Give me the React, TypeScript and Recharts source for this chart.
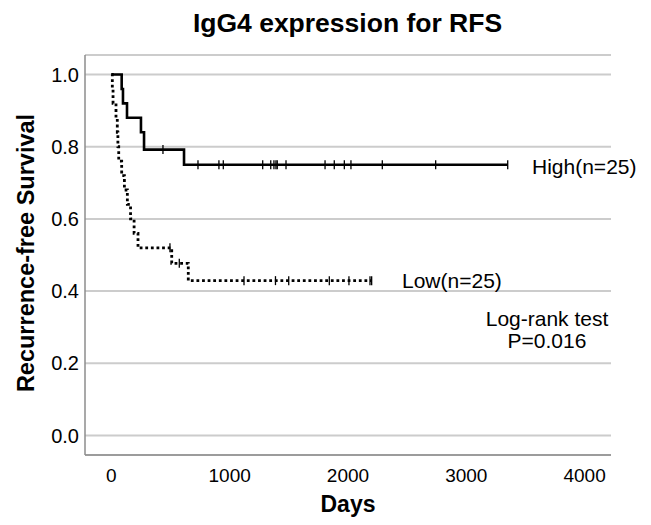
import React from "react";
import { ComposedChart, Line, XAxis, YAxis, CartesianGrid, Customized } from "recharts";

// Kaplan-Meier step points (time in days, survival proportion)
const highTimes = [0, 87, 98, 132, 250, 276, 614, 3350];
const highSurv = [1, 0.96, 0.92, 0.88, 0.84, 0.792, 0.75, 0.75];
const highCensorTimes = [436, 732, 909, 946, 1279, 1347, 1374, 1391, 1402, 1476, 1806, 1884, 1969, 2025, 2290, 2741, 3350];
const highCensorSurv = [0.792, 0.75, 0.75, 0.75, 0.75, 0.75, 0.75, 0.75, 0.75, 0.75, 0.75, 0.75, 0.75, 0.75, 0.75, 0.75, 0.75];

const lowTimes = [0, 8, 14, 39, 50, 55, 62, 87, 110, 135, 162, 192, 225, 510, 650, 2200];
const lowSurv = [1, 0.96, 0.92, 0.88, 0.84, 0.8, 0.76, 0.72, 0.68, 0.64, 0.6, 0.56, 0.52, 0.477, 0.429, 0.429];
const lowCensorTimes = [495, 574, 1121, 1387, 1499, 1842, 2008, 2186, 2200];
const lowCensorSurv = [0.52, 0.477, 0.429, 0.429, 0.429, 0.429, 0.429, 0.429, 0.429];

const xTicks = [0, 1000, 2000, 3000, 4000];
const yTicks = [0, 0.2, 0.4, 0.6, 0.8, 1.0];

const title = "IgG4 expression for RFS";
const xLabel = "Days";
const yLabel = "Recurrence-free Survival";
const highLabel = "High(n=25)";
const lowLabel = "Low(n=25)";
const testLabel1 = "Log-rank test";
const testLabel2 = "P=0.016";

const zip = (t: number[], s: number[]) => t.map((v, i) => ({ t: v, s: s[i] }));
const highData = zip(highTimes, highSurv);
const lowData = zip(lowTimes, lowSurv);
const highCensor = zip(highCensorTimes, highCensorSurv);
const lowCensor = zip(lowCensorTimes, lowCensorSurv);

const FONT = "'Liberation Sans', Arial, Helvetica, sans-serif";

const censorDot = (props: any) => {
  const { cx, cy, index } = props;
  if (cx == null || cy == null) return <g key={`c-${index}`} />;
  return <line key={`c-${index}`} x1={cx} x2={cx} y1={cy - 4.5} y2={cy + 4.5} stroke="#000" strokeWidth={1.3} />;
};

const Texts = () => (
  <g fontFamily={FONT}>
    <text x={339.5} y={23.7} textAnchor="middle" fontSize={26.5} fontWeight="bold" fill="#000">{title}</text>
    <text x={340} y={504} textAnchor="middle" fontSize={23} fontWeight="bold" fill="#000">{xLabel}</text>
    <text transform="translate(18,245) rotate(-90)" textAnchor="middle" dominantBaseline="central" fontSize={23.5} fontWeight="bold" fill="#000">{yLabel}</text>
    <text x={524} y={166} fontSize={21} fill="#000">{highLabel}</text>
    <text x={394} y={280} fontSize={21} fill="#000">{lowLabel}</text>
    <text x={539} y={318} textAnchor="middle" fontSize={21} fill="#000">{testLabel1}</text>
    <text x={539} y={339.5} textAnchor="middle" fontSize={21} fill="#000">{testLabel2}</text>
  </g>
);

export default function App() {
  return (
    <ComposedChart width={643} height={517} margin={{ top: 47, right: 40, bottom: 40, left: 0 }}>
      <CartesianGrid horizontal vertical={false} stroke="#cccccc" strokeWidth={2} />
      <XAxis
        type="number"
        dataKey="t"
        domain={[-223, 4223]}
        ticks={xTicks}
        allowDataOverflow
        height={30}
        tickLine={false}
        tickMargin={8}
        axisLine={{ stroke: "#8c8c8c", strokeWidth: 1.5 }}
        tick={{ fill: "#000", fontSize: 19, fontFamily: FONT }}
      />
      <YAxis
        type="number"
        dataKey="s"
        domain={[-0.054, 1.054]}
        ticks={yTicks}
        allowDataOverflow
        width={77}
        tickLine={false}
        tickMargin={0}
        tickFormatter={(v: number) => v.toFixed(1)}
        axisLine={{ stroke: "#8c8c8c", strokeWidth: 1.5 }}
        tick={{ fill: "#000", fontSize: 20, fontFamily: FONT }}
      />
      <Line data={highData} dataKey="s" type="stepAfter" stroke="#000" strokeWidth={2.6} dot={false} isAnimationActive={false} />
      <Line data={lowData} dataKey="s" type="stepAfter" stroke="#000" strokeWidth={2.8} strokeDasharray="2.8 2.8" dot={false} isAnimationActive={false} />
      <Line data={highCensor} dataKey="s" stroke="none" dot={censorDot} activeDot={false} isAnimationActive={false} />
      <Line data={lowCensor} dataKey="s" stroke="none" dot={censorDot} activeDot={false} isAnimationActive={false} />
      <Customized component={Texts} />
    </ComposedChart>
  );
}
